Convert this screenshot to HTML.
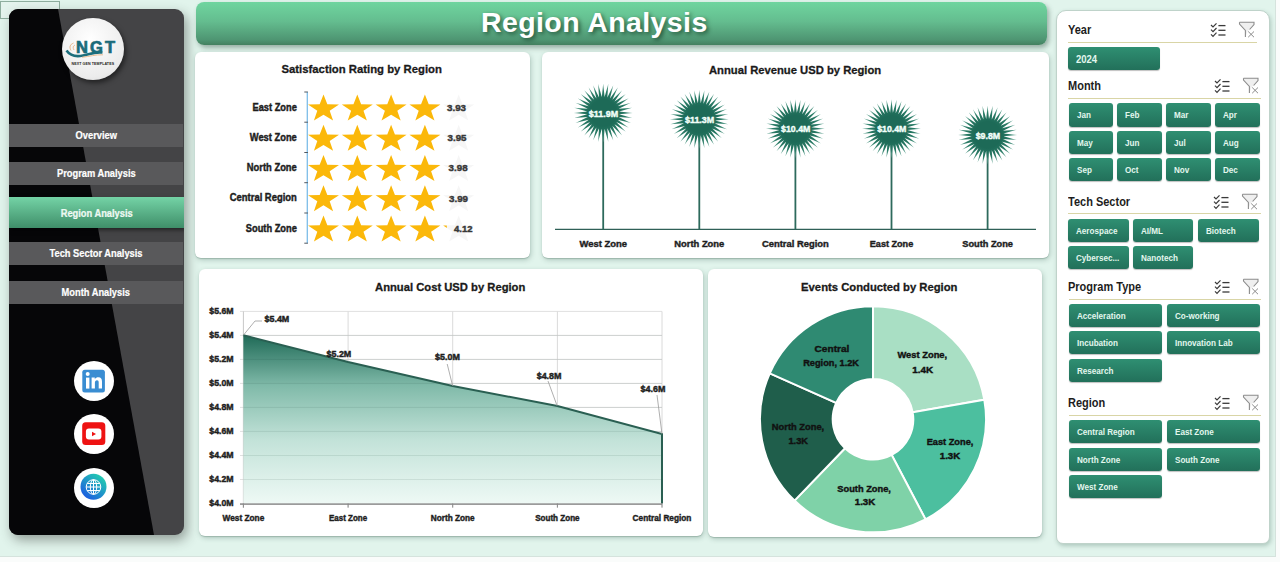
<!DOCTYPE html>
<html><head><meta charset="utf-8">
<style>
*{margin:0;padding:0;box-sizing:border-box}
html,body{width:1280px;height:562px;overflow:hidden;background:#fafcfb;font-family:"Liberation Sans",sans-serif}
#bg{position:absolute;left:0;top:0;width:1276px;height:557px;background:#e1f4ec;border-bottom:1px solid #d5e3dd;border-right:1px solid #d5e3dd}
#cell{position:absolute;left:0;top:1px;width:60px;height:18px;border:1px solid #8fae9f;background:#e4f3ed}
#sb{position:absolute;left:9px;top:9px;width:175px;height:526px;border-radius:9px;overflow:hidden;background:#444446;box-shadow:3px 5px 12px rgba(50,55,52,.45)}
#sb .blk{position:absolute;left:0;top:0;width:175px;height:526px;background:#060608;clip-path:polygon(0 0,49px 0,145px 526px,0 526px)}
.nav{position:absolute;left:0;width:174px;height:23px;background:#59595b;color:#fff;font-weight:bold;font-size:10px;text-align:center;line-height:24px;-webkit-text-stroke:.2px #fff}
.nav span{display:inline-block;transform:scaleX(.93)}
.nav.act{background:linear-gradient(#74d3a6,#3f8e69);height:31px;line-height:33px;width:175px;box-shadow:2px 2px 4px rgba(0,0,0,.5);color:#eaf8f0}
#logo{position:absolute;left:62px;top:18px;width:62px;height:62px;border-radius:50%;background:radial-gradient(circle at 45% 35%,#ffffff,#ececec 70%,#d6d6d6);box-shadow:2px 3px 5px rgba(0,0,0,.5)}
.soc{position:absolute;width:40px;height:40px;border-radius:50%;background:#fff}
#hdr{position:absolute;left:196px;top:2px;width:851px;height:42.5px;border-radius:8px;background:linear-gradient(#6fd59f,#64bd8f 45%,#4e9572 88%,#43805f);box-shadow:2px 3px 5px rgba(60,90,75,.45)}
#hdr .t{position:absolute;left:285px;top:3.5px;color:#fff;font-weight:bold;font-size:28.5px;letter-spacing:.4px;text-shadow:2px 2px 4px rgba(0,30,15,.6);white-space:nowrap}
.card{position:absolute;background:#fff;border-radius:6px;box-shadow:0 1px 1px rgba(40,80,65,.22),1px 2px 5px rgba(60,100,85,.3)}
#slc{position:absolute;left:1056px;top:10px;width:214px;height:534px;background:#fff;border-radius:10px 10px 7px 7px;border:1px solid #bfd3ca;box-shadow:1px 2px 4px rgba(60,100,85,.3)}
.sh{position:absolute;font-weight:bold;font-size:12.5px;color:#1d1d1d;white-space:nowrap}.sh span{display:inline-block;transform:scaleX(.88);transform-origin:0 0}
.sep{position:absolute;height:1px;background:#d9d5a6}
.btn span{display:inline-block;transform:scaleX(.9) translateY(.5px);transform-origin:0 0}.btn{position:absolute;border-radius:3px;background:linear-gradient(#2f8f72,#22705a);color:#e3f7ee;font-weight:bold;font-size:9px;padding-left:8px;box-shadow:0 1px 1px rgba(0,0,0,.25);white-space:nowrap;overflow:hidden}
</style></head><body>
<div id="bg"></div>
<div id="cell"></div>

<div id="sb">
  <div class="blk"></div>
  <div class="nav" style="top:115px"><span>Overview</span></div>
  <div class="nav" style="top:153px"><span>Program Analysis</span></div>
  <div class="nav act" style="top:188px"><span>Region Analysis</span></div>
  <div class="nav" style="top:233px"><span>Tech Sector Analysis</span></div>
  <div class="nav" style="top:272px"><span>Month Analysis</span></div>
</div>
<div id="logo"></div>
<div class="soc" style="left:74px;top:361px"></div>
<div class="soc" style="left:74px;top:414px"></div>
<div class="soc" style="left:74px;top:468px"></div>

<div id="hdr"><div class="t">Region Analysis</div></div>

<div class="card" style="left:195px;top:52px;width:335px;height:206px"></div>
<div class="card" style="left:542px;top:52px;width:507px;height:206px"></div>
<div class="card" style="left:199px;top:269px;width:503.5px;height:266.5px"></div>
<div class="card" style="left:707.5px;top:268.5px;width:334px;height:268.5px"></div>

<div id="slc"></div>
<div class="sh" style="left:1068px;top:22.5px"><span>Year</span></div><div class="sep" style="left:1068.0px;top:41.8px;width:189.0px"></div><svg width="60" height="20" style="position:absolute;left:1209.2px;top:19.6px" ><polyline points="2,5.0 4,7.0 7.5,3.3" fill="none" stroke="#3a3a3a" stroke-width="1.2"/><line x1="9.4" y1="5.6" x2="16.5" y2="5.6" stroke="#3a3a3a" stroke-width="1.3"/><polyline points="2,9.7 4,11.7 7.5,8.0" fill="none" stroke="#3a3a3a" stroke-width="1.2"/><line x1="9.4" y1="10.3" x2="16.5" y2="10.3" stroke="#3a3a3a" stroke-width="1.3"/><polyline points="2,14.4 4,16.4 7.5,12.7" fill="none" stroke="#3a3a3a" stroke-width="1.2"/><line x1="9.4" y1="15.0" x2="16.5" y2="15.0" stroke="#3a3a3a" stroke-width="1.3"/><polygon points="30.5,2.3 45,2.3 45,4.5 38.5,11.5 36.4,17 36.4,10.5 30.5,4" fill="#efefef"/><path d="M30.5,2.3 L45,2.3 L45,4.5 L40.6,9.5 M30.5,2.3 L30.5,4 L36.4,10.5 L36.4,17" fill="none" stroke="#8c8c8c" stroke-width="1.1"/><path d="M39.2,11.5 L45,17.2 M45,11.5 L39.2,17.2" stroke="#8c8c8c" stroke-width="1"/></svg><div class="btn" style="left:1068px;top:46.8px;width:92px;height:23.2px;line-height:23.2px;font-size:10px;padding-left:7.8px"><span style="transform:scaleX(.95) translateY(.5px)">2024</span></div><div class="sh" style="left:1068px;top:78.5px"><span>Month</span></div><div class="sep" style="left:1068.0px;top:97.7px;width:192.6px"></div><svg width="60" height="20" style="position:absolute;left:1213.0px;top:75.6px" ><polyline points="2,5.0 4,7.0 7.5,3.3" fill="none" stroke="#3a3a3a" stroke-width="1.2"/><line x1="9.4" y1="5.6" x2="16.5" y2="5.6" stroke="#3a3a3a" stroke-width="1.3"/><polyline points="2,9.7 4,11.7 7.5,8.0" fill="none" stroke="#3a3a3a" stroke-width="1.2"/><line x1="9.4" y1="10.3" x2="16.5" y2="10.3" stroke="#3a3a3a" stroke-width="1.3"/><polyline points="2,14.4 4,16.4 7.5,12.7" fill="none" stroke="#3a3a3a" stroke-width="1.2"/><line x1="9.4" y1="15.0" x2="16.5" y2="15.0" stroke="#3a3a3a" stroke-width="1.3"/><polygon points="30.5,2.3 45,2.3 45,4.5 38.5,11.5 36.4,17 36.4,10.5 30.5,4" fill="#efefef"/><path d="M30.5,2.3 L45,2.3 L45,4.5 L40.6,9.5 M30.5,2.3 L30.5,4 L36.4,10.5 L36.4,17" fill="none" stroke="#8c8c8c" stroke-width="1.1"/><path d="M39.2,11.5 L45,17.2 M45,11.5 L39.2,17.2" stroke="#8c8c8c" stroke-width="1"/></svg><div class="btn" style="left:1068.5px;top:103.4px;width:44.8px;height:23.2px;line-height:23.2px"><span>Jan</span></div><div class="btn" style="left:1117.4px;top:103.4px;width:44.6px;height:23.2px;line-height:23.2px"><span>Feb</span></div><div class="btn" style="left:1165.8px;top:103.4px;width:45.0px;height:23.2px;line-height:23.2px"><span>Mar</span></div><div class="btn" style="left:1214.9px;top:103.4px;width:44.8px;height:23.2px;line-height:23.2px"><span>Apr</span></div><div class="btn" style="left:1068.5px;top:130.6px;width:44.8px;height:23.2px;line-height:23.2px"><span>May</span></div><div class="btn" style="left:1117.4px;top:130.6px;width:44.6px;height:23.2px;line-height:23.2px"><span>Jun</span></div><div class="btn" style="left:1165.8px;top:130.6px;width:45.0px;height:23.2px;line-height:23.2px"><span>Jul</span></div><div class="btn" style="left:1214.9px;top:130.6px;width:44.8px;height:23.2px;line-height:23.2px"><span>Aug</span></div><div class="btn" style="left:1068.5px;top:158.2px;width:44.8px;height:23.2px;line-height:23.2px"><span>Sep</span></div><div class="btn" style="left:1117.4px;top:158.2px;width:44.6px;height:23.2px;line-height:23.2px"><span>Oct</span></div><div class="btn" style="left:1165.8px;top:158.2px;width:45.0px;height:23.2px;line-height:23.2px"><span>Nov</span></div><div class="btn" style="left:1214.9px;top:158.2px;width:44.8px;height:23.2px;line-height:23.2px"><span>Dec</span></div><div class="sh" style="left:1068px;top:194.5px"><span>Tech Sector</span></div><div class="sep" style="left:1068.0px;top:213.0px;width:192.6px"></div><svg width="60" height="20" style="position:absolute;left:1211.5px;top:191.6px" ><polyline points="2,5.0 4,7.0 7.5,3.3" fill="none" stroke="#3a3a3a" stroke-width="1.2"/><line x1="9.4" y1="5.6" x2="16.5" y2="5.6" stroke="#3a3a3a" stroke-width="1.3"/><polyline points="2,9.7 4,11.7 7.5,8.0" fill="none" stroke="#3a3a3a" stroke-width="1.2"/><line x1="9.4" y1="10.3" x2="16.5" y2="10.3" stroke="#3a3a3a" stroke-width="1.3"/><polyline points="2,14.4 4,16.4 7.5,12.7" fill="none" stroke="#3a3a3a" stroke-width="1.2"/><line x1="9.4" y1="15.0" x2="16.5" y2="15.0" stroke="#3a3a3a" stroke-width="1.3"/><polygon points="30.5,2.3 45,2.3 45,4.5 38.5,11.5 36.4,17 36.4,10.5 30.5,4" fill="#efefef"/><path d="M30.5,2.3 L45,2.3 L45,4.5 L40.6,9.5 M30.5,2.3 L30.5,4 L36.4,10.5 L36.4,17" fill="none" stroke="#8c8c8c" stroke-width="1.1"/><path d="M39.2,11.5 L45,17.2 M45,11.5 L39.2,17.2" stroke="#8c8c8c" stroke-width="1"/></svg><div class="btn" style="left:1068.1px;top:218.5px;width:60.5px;height:23.0px;line-height:23.0px"><span>Aerospace</span></div><div class="btn" style="left:1132.9px;top:218.5px;width:60.5px;height:23.0px;line-height:23.0px"><span>AI/ML</span></div><div class="btn" style="left:1197.5px;top:218.5px;width:61.3px;height:23.0px;line-height:23.0px"><span>Biotech</span></div><div class="btn" style="left:1068.1px;top:245.9px;width:60.5px;height:23.0px;line-height:23.0px"><span>Cybersec...</span></div><div class="btn" style="left:1132.9px;top:245.9px;width:60.5px;height:23.0px;line-height:23.0px"><span>Nanotech</span></div><div class="sh" style="left:1068px;top:279.5px"><span>Program Type</span></div><div class="sep" style="left:1068.8px;top:298.8px;width:192.7px"></div><svg width="60" height="20" style="position:absolute;left:1213.0px;top:276.6px" ><polyline points="2,5.0 4,7.0 7.5,3.3" fill="none" stroke="#3a3a3a" stroke-width="1.2"/><line x1="9.4" y1="5.6" x2="16.5" y2="5.6" stroke="#3a3a3a" stroke-width="1.3"/><polyline points="2,9.7 4,11.7 7.5,8.0" fill="none" stroke="#3a3a3a" stroke-width="1.2"/><line x1="9.4" y1="10.3" x2="16.5" y2="10.3" stroke="#3a3a3a" stroke-width="1.3"/><polyline points="2,14.4 4,16.4 7.5,12.7" fill="none" stroke="#3a3a3a" stroke-width="1.2"/><line x1="9.4" y1="15.0" x2="16.5" y2="15.0" stroke="#3a3a3a" stroke-width="1.3"/><polygon points="30.5,2.3 45,2.3 45,4.5 38.5,11.5 36.4,17 36.4,10.5 30.5,4" fill="#efefef"/><path d="M30.5,2.3 L45,2.3 L45,4.5 L40.6,9.5 M30.5,2.3 L30.5,4 L36.4,10.5 L36.4,17" fill="none" stroke="#8c8c8c" stroke-width="1.1"/><path d="M39.2,11.5 L45,17.2 M45,11.5 L39.2,17.2" stroke="#8c8c8c" stroke-width="1"/></svg><div class="btn" style="left:1068.8px;top:304.2px;width:93.6px;height:23.0px;line-height:23.0px"><span>Acceleration</span></div><div class="btn" style="left:1166.6px;top:304.2px;width:93.8px;height:23.0px;line-height:23.0px"><span>Co-working</span></div><div class="btn" style="left:1068.8px;top:331.3px;width:93.6px;height:23.0px;line-height:23.0px"><span>Incubation</span></div><div class="btn" style="left:1166.6px;top:331.3px;width:93.8px;height:23.0px;line-height:23.0px"><span>Innovation Lab</span></div><div class="btn" style="left:1068.8px;top:358.6px;width:93.6px;height:23.0px;line-height:23.0px"><span>Research</span></div><div class="sh" style="left:1068px;top:395.5px"><span>Region</span></div><div class="sep" style="left:1068.8px;top:414.8px;width:192.7px"></div><svg width="60" height="20" style="position:absolute;left:1213.0px;top:392.6px" ><polyline points="2,5.0 4,7.0 7.5,3.3" fill="none" stroke="#3a3a3a" stroke-width="1.2"/><line x1="9.4" y1="5.6" x2="16.5" y2="5.6" stroke="#3a3a3a" stroke-width="1.3"/><polyline points="2,9.7 4,11.7 7.5,8.0" fill="none" stroke="#3a3a3a" stroke-width="1.2"/><line x1="9.4" y1="10.3" x2="16.5" y2="10.3" stroke="#3a3a3a" stroke-width="1.3"/><polyline points="2,14.4 4,16.4 7.5,12.7" fill="none" stroke="#3a3a3a" stroke-width="1.2"/><line x1="9.4" y1="15.0" x2="16.5" y2="15.0" stroke="#3a3a3a" stroke-width="1.3"/><polygon points="30.5,2.3 45,2.3 45,4.5 38.5,11.5 36.4,17 36.4,10.5 30.5,4" fill="#efefef"/><path d="M30.5,2.3 L45,2.3 L45,4.5 L40.6,9.5 M30.5,2.3 L30.5,4 L36.4,10.5 L36.4,17" fill="none" stroke="#8c8c8c" stroke-width="1.1"/><path d="M39.2,11.5 L45,17.2 M45,11.5 L39.2,17.2" stroke="#8c8c8c" stroke-width="1"/></svg><div class="btn" style="left:1068.8px;top:420.2px;width:93.6px;height:23.0px;line-height:23.0px"><span>Central Region</span></div><div class="btn" style="left:1166.6px;top:420.2px;width:93.8px;height:23.0px;line-height:23.0px"><span>East Zone</span></div><div class="btn" style="left:1068.8px;top:447.6px;width:93.6px;height:23.0px;line-height:23.0px"><span>North Zone</span></div><div class="btn" style="left:1166.6px;top:447.6px;width:93.8px;height:23.0px;line-height:23.0px"><span>South Zone</span></div><div class="btn" style="left:1068.8px;top:474.7px;width:93.6px;height:23.0px;line-height:23.0px"><span>West Zone</span></div>
<svg width="1280" height="562" viewBox="0 0 1280 562" style="position:absolute;left:0;top:0" font-family="Liberation Sans, sans-serif"><text x="361.7" y="73.0" font-size="11.50" text-anchor="middle" fill="#1a1a1a" stroke="#1a1a1a" stroke-width="0.30" font-weight="bold" textLength="160.4" lengthAdjust="spacingAndGlyphs">Satisfaction Rating by Region</text>
<line x1="307.3" y1="92" x2="307.3" y2="243.2" stroke="#7dbde8" stroke-width="1.3"/>
<line x1="304.3" y1="92.0" x2="307.9" y2="92.0" stroke="#505860" stroke-width="1"/>
<line x1="304.3" y1="122.2" x2="307.9" y2="122.2" stroke="#505860" stroke-width="1"/>
<line x1="304.3" y1="152.5" x2="307.9" y2="152.5" stroke="#505860" stroke-width="1"/>
<line x1="304.3" y1="182.7" x2="307.9" y2="182.7" stroke="#505860" stroke-width="1"/>
<line x1="304.3" y1="213.0" x2="307.9" y2="213.0" stroke="#505860" stroke-width="1"/>
<line x1="304.3" y1="243.2" x2="307.9" y2="243.2" stroke="#505860" stroke-width="1"/>
<defs><radialGradient id="bg1"><stop offset="0.45" stop-color="#1d6a57"/><stop offset="0.75" stop-color="#2a7b66"/><stop offset="1" stop-color="#79b5a5"/></radialGradient></defs>
<text x="296.8" y="110.7" font-size="10.00" text-anchor="end" fill="#1e1e1e" stroke="#1e1e1e" stroke-width="0.42" font-weight="bold" textLength="44.3" lengthAdjust="spacingAndGlyphs">East Zone</text>
<polygon points="0.00,-14.34 3.83,-4.64 15.50,-4.43 6.20,1.77 9.58,11.60 0.00,5.74 -9.58,11.60 -6.20,1.77 -15.50,-4.43 -3.83,-4.64" transform="translate(323.5 108.9)" fill="#fbb80a"/>
<polygon points="0.00,-14.34 3.83,-4.64 15.50,-4.43 6.20,1.77 9.58,11.60 0.00,5.74 -9.58,11.60 -6.20,1.77 -15.50,-4.43 -3.83,-4.64" transform="translate(357.3 108.9)" fill="#fbb80a"/>
<polygon points="0.00,-14.34 3.83,-4.64 15.50,-4.43 6.20,1.77 9.58,11.60 0.00,5.74 -9.58,11.60 -6.20,1.77 -15.50,-4.43 -3.83,-4.64" transform="translate(391.1 108.9)" fill="#fbb80a"/>
<polygon points="0.00,-14.34 3.83,-4.64 15.50,-4.43 6.20,1.77 9.58,11.60 0.00,5.74 -9.58,11.60 -6.20,1.77 -15.50,-4.43 -3.83,-4.64" transform="translate(424.9 108.9)" fill="#fbb80a"/>
<polygon points="0.00,-14.34 3.83,-4.64 15.50,-4.43 6.20,1.77 9.58,11.60 0.00,5.74 -9.58,11.60 -6.20,1.77 -15.50,-4.43 -3.83,-4.64" transform="translate(458.7 108.9)" fill="#f6f6f6"/>
<text x="447.0" y="110.9" font-size="9.30" text-anchor="start" fill="#383838" stroke="#383838" stroke-width="0.42" font-weight="bold" textLength="19.0" lengthAdjust="spacingAndGlyphs">3.93</text>
<text x="296.8" y="141.0" font-size="10.00" text-anchor="end" fill="#1e1e1e" stroke="#1e1e1e" stroke-width="0.42" font-weight="bold" textLength="47.0" lengthAdjust="spacingAndGlyphs">West Zone</text>
<polygon points="0.00,-14.34 3.83,-4.64 15.50,-4.43 6.20,1.77 9.58,11.60 0.00,5.74 -9.58,11.60 -6.20,1.77 -15.50,-4.43 -3.83,-4.64" transform="translate(323.5 139.2)" fill="#fbb80a"/>
<polygon points="0.00,-14.34 3.83,-4.64 15.50,-4.43 6.20,1.77 9.58,11.60 0.00,5.74 -9.58,11.60 -6.20,1.77 -15.50,-4.43 -3.83,-4.64" transform="translate(357.3 139.2)" fill="#fbb80a"/>
<polygon points="0.00,-14.34 3.83,-4.64 15.50,-4.43 6.20,1.77 9.58,11.60 0.00,5.74 -9.58,11.60 -6.20,1.77 -15.50,-4.43 -3.83,-4.64" transform="translate(391.1 139.2)" fill="#fbb80a"/>
<polygon points="0.00,-14.34 3.83,-4.64 15.50,-4.43 6.20,1.77 9.58,11.60 0.00,5.74 -9.58,11.60 -6.20,1.77 -15.50,-4.43 -3.83,-4.64" transform="translate(424.9 139.2)" fill="#fbb80a"/>
<polygon points="0.00,-14.34 3.83,-4.64 15.50,-4.43 6.20,1.77 9.58,11.60 0.00,5.74 -9.58,11.60 -6.20,1.77 -15.50,-4.43 -3.83,-4.64" transform="translate(458.7 139.2)" fill="#f6f6f6"/>
<text x="447.5" y="141.2" font-size="9.30" text-anchor="start" fill="#383838" stroke="#383838" stroke-width="0.42" font-weight="bold" textLength="19.0" lengthAdjust="spacingAndGlyphs">3.95</text>
<text x="296.8" y="171.2" font-size="10.00" text-anchor="end" fill="#1e1e1e" stroke="#1e1e1e" stroke-width="0.42" font-weight="bold" textLength="50.0" lengthAdjust="spacingAndGlyphs">North Zone</text>
<polygon points="0.00,-14.34 3.83,-4.64 15.50,-4.43 6.20,1.77 9.58,11.60 0.00,5.74 -9.58,11.60 -6.20,1.77 -15.50,-4.43 -3.83,-4.64" transform="translate(323.5 169.4)" fill="#fbb80a"/>
<polygon points="0.00,-14.34 3.83,-4.64 15.50,-4.43 6.20,1.77 9.58,11.60 0.00,5.74 -9.58,11.60 -6.20,1.77 -15.50,-4.43 -3.83,-4.64" transform="translate(357.3 169.4)" fill="#fbb80a"/>
<polygon points="0.00,-14.34 3.83,-4.64 15.50,-4.43 6.20,1.77 9.58,11.60 0.00,5.74 -9.58,11.60 -6.20,1.77 -15.50,-4.43 -3.83,-4.64" transform="translate(391.1 169.4)" fill="#fbb80a"/>
<polygon points="0.00,-14.34 3.83,-4.64 15.50,-4.43 6.20,1.77 9.58,11.60 0.00,5.74 -9.58,11.60 -6.20,1.77 -15.50,-4.43 -3.83,-4.64" transform="translate(424.9 169.4)" fill="#fbb80a"/>
<polygon points="0.00,-14.34 3.83,-4.64 15.50,-4.43 6.20,1.77 9.58,11.60 0.00,5.74 -9.58,11.60 -6.20,1.77 -15.50,-4.43 -3.83,-4.64" transform="translate(458.7 169.4)" fill="#f6f6f6"/>
<text x="448.6" y="171.4" font-size="9.30" text-anchor="start" fill="#383838" stroke="#383838" stroke-width="0.42" font-weight="bold" textLength="19.0" lengthAdjust="spacingAndGlyphs">3.98</text>
<text x="296.8" y="201.4" font-size="10.00" text-anchor="end" fill="#1e1e1e" stroke="#1e1e1e" stroke-width="0.42" font-weight="bold" textLength="67.0" lengthAdjust="spacingAndGlyphs">Central Region</text>
<polygon points="0.00,-14.34 3.83,-4.64 15.50,-4.43 6.20,1.77 9.58,11.60 0.00,5.74 -9.58,11.60 -6.20,1.77 -15.50,-4.43 -3.83,-4.64" transform="translate(323.5 199.6)" fill="#fbb80a"/>
<polygon points="0.00,-14.34 3.83,-4.64 15.50,-4.43 6.20,1.77 9.58,11.60 0.00,5.74 -9.58,11.60 -6.20,1.77 -15.50,-4.43 -3.83,-4.64" transform="translate(357.3 199.6)" fill="#fbb80a"/>
<polygon points="0.00,-14.34 3.83,-4.64 15.50,-4.43 6.20,1.77 9.58,11.60 0.00,5.74 -9.58,11.60 -6.20,1.77 -15.50,-4.43 -3.83,-4.64" transform="translate(391.1 199.6)" fill="#fbb80a"/>
<polygon points="0.00,-14.34 3.83,-4.64 15.50,-4.43 6.20,1.77 9.58,11.60 0.00,5.74 -9.58,11.60 -6.20,1.77 -15.50,-4.43 -3.83,-4.64" transform="translate(424.9 199.6)" fill="#fbb80a"/>
<polygon points="0.00,-14.34 3.83,-4.64 15.50,-4.43 6.20,1.77 9.58,11.60 0.00,5.74 -9.58,11.60 -6.20,1.77 -15.50,-4.43 -3.83,-4.64" transform="translate(458.7 199.6)" fill="#f6f6f6"/>
<text x="449.0" y="201.6" font-size="9.30" text-anchor="start" fill="#383838" stroke="#383838" stroke-width="0.42" font-weight="bold" textLength="19.0" lengthAdjust="spacingAndGlyphs">3.99</text>
<text x="296.8" y="231.7" font-size="10.00" text-anchor="end" fill="#1e1e1e" stroke="#1e1e1e" stroke-width="0.42" font-weight="bold" textLength="51.0" lengthAdjust="spacingAndGlyphs">South Zone</text>
<polygon points="0.00,-14.34 3.83,-4.64 15.50,-4.43 6.20,1.77 9.58,11.60 0.00,5.74 -9.58,11.60 -6.20,1.77 -15.50,-4.43 -3.83,-4.64" transform="translate(323.5 229.9)" fill="#fbb80a"/>
<polygon points="0.00,-14.34 3.83,-4.64 15.50,-4.43 6.20,1.77 9.58,11.60 0.00,5.74 -9.58,11.60 -6.20,1.77 -15.50,-4.43 -3.83,-4.64" transform="translate(357.3 229.9)" fill="#fbb80a"/>
<polygon points="0.00,-14.34 3.83,-4.64 15.50,-4.43 6.20,1.77 9.58,11.60 0.00,5.74 -9.58,11.60 -6.20,1.77 -15.50,-4.43 -3.83,-4.64" transform="translate(391.1 229.9)" fill="#fbb80a"/>
<polygon points="0.00,-14.34 3.83,-4.64 15.50,-4.43 6.20,1.77 9.58,11.60 0.00,5.74 -9.58,11.60 -6.20,1.77 -15.50,-4.43 -3.83,-4.64" transform="translate(424.9 229.9)" fill="#fbb80a"/>
<polygon points="0.00,-14.34 3.83,-4.64 15.50,-4.43 6.20,1.77 9.58,11.60 0.00,5.74 -9.58,11.60 -6.20,1.77 -15.50,-4.43 -3.83,-4.64" transform="translate(458.7 229.9)" fill="#f6f6f6"/>
<defs><clipPath id="cp5"><rect x="440" y="200" width="6.8" height="60"/></clipPath></defs>
<g clip-path="url(#cp5)"><polygon points="0.00,-14.34 3.83,-4.64 15.50,-4.43 6.20,1.77 9.58,11.60 0.00,5.74 -9.58,11.60 -6.20,1.77 -15.50,-4.43 -3.83,-4.64" transform="translate(458.7 229.9)" fill="#fbb80a"/></g>
<text x="454.0" y="231.9" font-size="9.30" text-anchor="start" fill="#383838" stroke="#383838" stroke-width="0.42" font-weight="bold" textLength="18.5" lengthAdjust="spacingAndGlyphs">4.12</text>
<text x="795.1" y="74.1" font-size="11.50" text-anchor="middle" fill="#1a1a1a" stroke="#1a1a1a" stroke-width="0.30" font-weight="bold" textLength="172.2" lengthAdjust="spacingAndGlyphs">Annual Revenue USD by Region</text>
<line x1="555" y1="229.3" x2="1036" y2="229.3" stroke="#2f6057" stroke-width="1.3"/>
<line x1="603.2" y1="112.9" x2="603.2" y2="229.3" stroke="#2d6a5c" stroke-width="1.8"/>
<polygon points="0.00,-29.50 1.39,-15.94 5.12,-29.05 4.14,-15.45 10.09,-27.72 6.76,-14.50 14.75,-25.55 9.18,-13.11 18.96,-22.60 11.31,-11.31 22.60,-18.96 13.11,-9.18 25.55,-14.75 14.50,-6.76 27.72,-10.09 15.45,-4.14 29.05,-5.12 15.94,-1.39 29.50,0.00 15.94,1.39 29.05,5.12 15.45,4.14 27.72,10.09 14.50,6.76 25.55,14.75 13.11,9.18 22.60,18.96 11.31,11.31 18.96,22.60 9.18,13.11 14.75,25.55 6.76,14.50 10.09,27.72 4.14,15.45 5.12,29.05 1.39,15.94 0.00,29.50 -1.39,15.94 -5.12,29.05 -4.14,15.45 -10.09,27.72 -6.76,14.50 -14.75,25.55 -9.18,13.11 -18.96,22.60 -11.31,11.31 -22.60,18.96 -13.11,9.18 -25.55,14.75 -14.50,6.76 -27.72,10.09 -15.45,4.14 -29.05,5.12 -15.94,1.39 -29.50,0.00 -15.94,-1.39 -29.05,-5.12 -15.45,-4.14 -27.72,-10.09 -14.50,-6.76 -25.55,-14.75 -13.11,-9.18 -22.60,-18.96 -11.31,-11.31 -18.96,-22.60 -9.18,-13.11 -14.75,-25.55 -6.76,-14.50 -10.09,-27.72 -4.14,-15.45 -5.12,-29.05 -1.39,-15.94" transform="translate(603.2 112.9)" fill="url(#bg1)"/>
<text x="603.5" y="116.5" font-size="9.20" text-anchor="middle" fill="#f2fffa" stroke="#f2fffa" stroke-width="0.42" font-weight="bold" textLength="29.3" lengthAdjust="spacingAndGlyphs">$11.9M</text>
<text x="603.2" y="246.8" font-size="9.50" text-anchor="middle" fill="#1e1e1e" stroke="#1e1e1e" stroke-width="0.42" font-weight="bold" textLength="47.5" lengthAdjust="spacingAndGlyphs">West Zone</text>
<line x1="699.3" y1="119.2" x2="699.3" y2="229.3" stroke="#2d6a5c" stroke-width="1.8"/>
<polygon points="0.00,-29.50 1.39,-15.94 5.12,-29.05 4.14,-15.45 10.09,-27.72 6.76,-14.50 14.75,-25.55 9.18,-13.11 18.96,-22.60 11.31,-11.31 22.60,-18.96 13.11,-9.18 25.55,-14.75 14.50,-6.76 27.72,-10.09 15.45,-4.14 29.05,-5.12 15.94,-1.39 29.50,0.00 15.94,1.39 29.05,5.12 15.45,4.14 27.72,10.09 14.50,6.76 25.55,14.75 13.11,9.18 22.60,18.96 11.31,11.31 18.96,22.60 9.18,13.11 14.75,25.55 6.76,14.50 10.09,27.72 4.14,15.45 5.12,29.05 1.39,15.94 0.00,29.50 -1.39,15.94 -5.12,29.05 -4.14,15.45 -10.09,27.72 -6.76,14.50 -14.75,25.55 -9.18,13.11 -18.96,22.60 -11.31,11.31 -22.60,18.96 -13.11,9.18 -25.55,14.75 -14.50,6.76 -27.72,10.09 -15.45,4.14 -29.05,5.12 -15.94,1.39 -29.50,0.00 -15.94,-1.39 -29.05,-5.12 -15.45,-4.14 -27.72,-10.09 -14.50,-6.76 -25.55,-14.75 -13.11,-9.18 -22.60,-18.96 -11.31,-11.31 -18.96,-22.60 -9.18,-13.11 -14.75,-25.55 -6.76,-14.50 -10.09,-27.72 -4.14,-15.45 -5.12,-29.05 -1.39,-15.94" transform="translate(699.3 119.2)" fill="url(#bg1)"/>
<text x="699.6" y="122.8" font-size="9.20" text-anchor="middle" fill="#f2fffa" stroke="#f2fffa" stroke-width="0.42" font-weight="bold" textLength="29.3" lengthAdjust="spacingAndGlyphs">$11.3M</text>
<text x="699.3" y="246.8" font-size="9.50" text-anchor="middle" fill="#1e1e1e" stroke="#1e1e1e" stroke-width="0.42" font-weight="bold" textLength="50.0" lengthAdjust="spacingAndGlyphs">North Zone</text>
<line x1="795.4" y1="128.7" x2="795.4" y2="229.3" stroke="#2d6a5c" stroke-width="1.8"/>
<polygon points="0.00,-29.50 1.39,-15.94 5.12,-29.05 4.14,-15.45 10.09,-27.72 6.76,-14.50 14.75,-25.55 9.18,-13.11 18.96,-22.60 11.31,-11.31 22.60,-18.96 13.11,-9.18 25.55,-14.75 14.50,-6.76 27.72,-10.09 15.45,-4.14 29.05,-5.12 15.94,-1.39 29.50,0.00 15.94,1.39 29.05,5.12 15.45,4.14 27.72,10.09 14.50,6.76 25.55,14.75 13.11,9.18 22.60,18.96 11.31,11.31 18.96,22.60 9.18,13.11 14.75,25.55 6.76,14.50 10.09,27.72 4.14,15.45 5.12,29.05 1.39,15.94 0.00,29.50 -1.39,15.94 -5.12,29.05 -4.14,15.45 -10.09,27.72 -6.76,14.50 -14.75,25.55 -9.18,13.11 -18.96,22.60 -11.31,11.31 -22.60,18.96 -13.11,9.18 -25.55,14.75 -14.50,6.76 -27.72,10.09 -15.45,4.14 -29.05,5.12 -15.94,1.39 -29.50,0.00 -15.94,-1.39 -29.05,-5.12 -15.45,-4.14 -27.72,-10.09 -14.50,-6.76 -25.55,-14.75 -13.11,-9.18 -22.60,-18.96 -11.31,-11.31 -18.96,-22.60 -9.18,-13.11 -14.75,-25.55 -6.76,-14.50 -10.09,-27.72 -4.14,-15.45 -5.12,-29.05 -1.39,-15.94" transform="translate(795.4 128.7)" fill="url(#bg1)"/>
<text x="795.7" y="132.2" font-size="9.20" text-anchor="middle" fill="#f2fffa" stroke="#f2fffa" stroke-width="0.42" font-weight="bold" textLength="29.3" lengthAdjust="spacingAndGlyphs">$10.4M</text>
<text x="795.4" y="246.8" font-size="9.50" text-anchor="middle" fill="#1e1e1e" stroke="#1e1e1e" stroke-width="0.42" font-weight="bold" textLength="66.8" lengthAdjust="spacingAndGlyphs">Central Region</text>
<line x1="891.5" y1="128.7" x2="891.5" y2="229.3" stroke="#2d6a5c" stroke-width="1.8"/>
<polygon points="0.00,-29.50 1.39,-15.94 5.12,-29.05 4.14,-15.45 10.09,-27.72 6.76,-14.50 14.75,-25.55 9.18,-13.11 18.96,-22.60 11.31,-11.31 22.60,-18.96 13.11,-9.18 25.55,-14.75 14.50,-6.76 27.72,-10.09 15.45,-4.14 29.05,-5.12 15.94,-1.39 29.50,0.00 15.94,1.39 29.05,5.12 15.45,4.14 27.72,10.09 14.50,6.76 25.55,14.75 13.11,9.18 22.60,18.96 11.31,11.31 18.96,22.60 9.18,13.11 14.75,25.55 6.76,14.50 10.09,27.72 4.14,15.45 5.12,29.05 1.39,15.94 0.00,29.50 -1.39,15.94 -5.12,29.05 -4.14,15.45 -10.09,27.72 -6.76,14.50 -14.75,25.55 -9.18,13.11 -18.96,22.60 -11.31,11.31 -22.60,18.96 -13.11,9.18 -25.55,14.75 -14.50,6.76 -27.72,10.09 -15.45,4.14 -29.05,5.12 -15.94,1.39 -29.50,0.00 -15.94,-1.39 -29.05,-5.12 -15.45,-4.14 -27.72,-10.09 -14.50,-6.76 -25.55,-14.75 -13.11,-9.18 -22.60,-18.96 -11.31,-11.31 -18.96,-22.60 -9.18,-13.11 -14.75,-25.55 -6.76,-14.50 -10.09,-27.72 -4.14,-15.45 -5.12,-29.05 -1.39,-15.94" transform="translate(891.5 128.7)" fill="url(#bg1)"/>
<text x="891.8" y="132.2" font-size="9.20" text-anchor="middle" fill="#f2fffa" stroke="#f2fffa" stroke-width="0.42" font-weight="bold" textLength="29.3" lengthAdjust="spacingAndGlyphs">$10.4M</text>
<text x="891.5" y="246.8" font-size="9.50" text-anchor="middle" fill="#1e1e1e" stroke="#1e1e1e" stroke-width="0.42" font-weight="bold" textLength="43.4" lengthAdjust="spacingAndGlyphs">East Zone</text>
<line x1="987.6" y1="134.9" x2="987.6" y2="229.3" stroke="#2d6a5c" stroke-width="1.8"/>
<polygon points="0.00,-29.50 1.39,-15.94 5.12,-29.05 4.14,-15.45 10.09,-27.72 6.76,-14.50 14.75,-25.55 9.18,-13.11 18.96,-22.60 11.31,-11.31 22.60,-18.96 13.11,-9.18 25.55,-14.75 14.50,-6.76 27.72,-10.09 15.45,-4.14 29.05,-5.12 15.94,-1.39 29.50,0.00 15.94,1.39 29.05,5.12 15.45,4.14 27.72,10.09 14.50,6.76 25.55,14.75 13.11,9.18 22.60,18.96 11.31,11.31 18.96,22.60 9.18,13.11 14.75,25.55 6.76,14.50 10.09,27.72 4.14,15.45 5.12,29.05 1.39,15.94 0.00,29.50 -1.39,15.94 -5.12,29.05 -4.14,15.45 -10.09,27.72 -6.76,14.50 -14.75,25.55 -9.18,13.11 -18.96,22.60 -11.31,11.31 -22.60,18.96 -13.11,9.18 -25.55,14.75 -14.50,6.76 -27.72,10.09 -15.45,4.14 -29.05,5.12 -15.94,1.39 -29.50,0.00 -15.94,-1.39 -29.05,-5.12 -15.45,-4.14 -27.72,-10.09 -14.50,-6.76 -25.55,-14.75 -13.11,-9.18 -22.60,-18.96 -11.31,-11.31 -18.96,-22.60 -9.18,-13.11 -14.75,-25.55 -6.76,-14.50 -10.09,-27.72 -4.14,-15.45 -5.12,-29.05 -1.39,-15.94" transform="translate(987.6 134.9)" fill="url(#bg1)"/>
<text x="987.9" y="138.5" font-size="9.20" text-anchor="middle" fill="#f2fffa" stroke="#f2fffa" stroke-width="0.42" font-weight="bold" textLength="24.5" lengthAdjust="spacingAndGlyphs">$9.8M</text>
<text x="987.6" y="246.8" font-size="9.50" text-anchor="middle" fill="#1e1e1e" stroke="#1e1e1e" stroke-width="0.42" font-weight="bold" textLength="50.7" lengthAdjust="spacingAndGlyphs">South Zone</text>
<text x="450.2" y="291.0" font-size="11.50" text-anchor="middle" fill="#1a1a1a" stroke="#1a1a1a" stroke-width="0.30" font-weight="bold" textLength="150.3" lengthAdjust="spacingAndGlyphs">Annual Cost USD by Region</text>
<line x1="240" y1="311.4" x2="662" y2="311.4" stroke="#e0e0e0" stroke-width="1"/>
<text x="233.6" y="313.6" font-size="8.50" text-anchor="end" fill="#1e1e1e" stroke="#1e1e1e" stroke-width="0.42" font-weight="bold" textLength="24.3" lengthAdjust="spacingAndGlyphs">$5.6M</text>
<line x1="240" y1="335.4" x2="662" y2="335.4" stroke="#e0e0e0" stroke-width="1"/>
<text x="233.6" y="337.6" font-size="8.50" text-anchor="end" fill="#1e1e1e" stroke="#1e1e1e" stroke-width="0.42" font-weight="bold" textLength="24.3" lengthAdjust="spacingAndGlyphs">$5.4M</text>
<line x1="240" y1="359.4" x2="662" y2="359.4" stroke="#e0e0e0" stroke-width="1"/>
<text x="233.6" y="361.6" font-size="8.50" text-anchor="end" fill="#1e1e1e" stroke="#1e1e1e" stroke-width="0.42" font-weight="bold" textLength="24.3" lengthAdjust="spacingAndGlyphs">$5.2M</text>
<line x1="240" y1="383.4" x2="662" y2="383.4" stroke="#e0e0e0" stroke-width="1"/>
<text x="233.6" y="385.6" font-size="8.50" text-anchor="end" fill="#1e1e1e" stroke="#1e1e1e" stroke-width="0.42" font-weight="bold" textLength="24.3" lengthAdjust="spacingAndGlyphs">$5.0M</text>
<line x1="240" y1="407.4" x2="662" y2="407.4" stroke="#e0e0e0" stroke-width="1"/>
<text x="233.6" y="409.6" font-size="8.50" text-anchor="end" fill="#1e1e1e" stroke="#1e1e1e" stroke-width="0.42" font-weight="bold" textLength="24.3" lengthAdjust="spacingAndGlyphs">$4.8M</text>
<line x1="240" y1="431.4" x2="662" y2="431.4" stroke="#e0e0e0" stroke-width="1"/>
<text x="233.6" y="433.6" font-size="8.50" text-anchor="end" fill="#1e1e1e" stroke="#1e1e1e" stroke-width="0.42" font-weight="bold" textLength="24.3" lengthAdjust="spacingAndGlyphs">$4.6M</text>
<line x1="240" y1="455.5" x2="662" y2="455.5" stroke="#e0e0e0" stroke-width="1"/>
<text x="233.6" y="457.7" font-size="8.50" text-anchor="end" fill="#1e1e1e" stroke="#1e1e1e" stroke-width="0.42" font-weight="bold" textLength="24.3" lengthAdjust="spacingAndGlyphs">$4.4M</text>
<line x1="240" y1="479.5" x2="662" y2="479.5" stroke="#e0e0e0" stroke-width="1"/>
<text x="233.6" y="481.7" font-size="8.50" text-anchor="end" fill="#1e1e1e" stroke="#1e1e1e" stroke-width="0.42" font-weight="bold" textLength="24.3" lengthAdjust="spacingAndGlyphs">$4.2M</text>
<line x1="240" y1="503.5" x2="662" y2="503.5" stroke="#e0e0e0" stroke-width="1"/>
<text x="233.6" y="505.7" font-size="8.50" text-anchor="end" fill="#1e1e1e" stroke="#1e1e1e" stroke-width="0.42" font-weight="bold" textLength="24.3" lengthAdjust="spacingAndGlyphs">$4.0M</text>
<line x1="348.1" y1="311.4" x2="348.1" y2="508" stroke="#dadada" stroke-width="1"/>
<line x1="452.7" y1="311.4" x2="452.7" y2="508" stroke="#dadada" stroke-width="1"/>
<line x1="557.4" y1="311.4" x2="557.4" y2="508" stroke="#dadada" stroke-width="1"/>
<line x1="662.0" y1="311.4" x2="662.0" y2="508" stroke="#dadada" stroke-width="1"/>
<line x1="243.4" y1="311.4" x2="243.4" y2="508" stroke="#c8c8c8" stroke-width="1"/>
<defs><linearGradient id="ag" x1="0" y1="0" x2="0" y2="1"><stop offset="0" stop-color="#1f6a57"/><stop offset="0.3" stop-color="#80baa9"/><stop offset="0.62" stop-color="#c2e2d8"/><stop offset="1" stop-color="#eef9f5"/></linearGradient></defs>
<polygon points="243.4,503.5 243.4,335.2 348.1,362.0 452.7,386.0 557.4,406.0 662.0,434.0 662.0,503.5" fill="url(#ag)"/>
<line x1="243.4" y1="335.4" x2="662" y2="335.4" stroke="rgba(0,40,30,0.09)" stroke-width="1"/>
<line x1="243.4" y1="359.4" x2="662" y2="359.4" stroke="rgba(0,40,30,0.09)" stroke-width="1"/>
<line x1="243.4" y1="383.4" x2="662" y2="383.4" stroke="rgba(0,40,30,0.09)" stroke-width="1"/>
<line x1="243.4" y1="407.4" x2="662" y2="407.4" stroke="rgba(0,40,30,0.09)" stroke-width="1"/>
<line x1="243.4" y1="431.4" x2="662" y2="431.4" stroke="rgba(0,40,30,0.09)" stroke-width="1"/>
<line x1="243.4" y1="455.5" x2="662" y2="455.5" stroke="rgba(0,40,30,0.09)" stroke-width="1"/>
<line x1="243.4" y1="479.5" x2="662" y2="479.5" stroke="rgba(0,40,30,0.09)" stroke-width="1"/>
<polyline points="243.4,335.2 348.1,362.0 452.7,386.0 557.4,406.0 662.0,434.0 662.0,503.5" fill="none" stroke="#2a5f52" stroke-width="2"/>
<line x1="240" y1="504.1" x2="662" y2="504.1" stroke="#7a7a7a" stroke-width="1.2"/>
<line x1="243.4" y1="503.5" x2="243.4" y2="507.5" stroke="#8a8a8a" stroke-width="1"/>
<line x1="348.1" y1="503.5" x2="348.1" y2="507.5" stroke="#8a8a8a" stroke-width="1"/>
<line x1="452.7" y1="503.5" x2="452.7" y2="507.5" stroke="#8a8a8a" stroke-width="1"/>
<line x1="557.4" y1="503.5" x2="557.4" y2="507.5" stroke="#8a8a8a" stroke-width="1"/>
<line x1="662.0" y1="503.5" x2="662.0" y2="507.5" stroke="#8a8a8a" stroke-width="1"/>
<text x="243.4" y="520.6" font-size="8.50" text-anchor="middle" fill="#1e1e1e" stroke="#1e1e1e" stroke-width="0.42" font-weight="bold" textLength="41.7" lengthAdjust="spacingAndGlyphs">West Zone</text>
<text x="348.1" y="520.6" font-size="8.50" text-anchor="middle" fill="#1e1e1e" stroke="#1e1e1e" stroke-width="0.42" font-weight="bold" textLength="38.1" lengthAdjust="spacingAndGlyphs">East Zone</text>
<text x="452.7" y="520.6" font-size="8.50" text-anchor="middle" fill="#1e1e1e" stroke="#1e1e1e" stroke-width="0.42" font-weight="bold" textLength="43.8" lengthAdjust="spacingAndGlyphs">North Zone</text>
<text x="557.4" y="520.6" font-size="8.50" text-anchor="middle" fill="#1e1e1e" stroke="#1e1e1e" stroke-width="0.42" font-weight="bold" textLength="44.4" lengthAdjust="spacingAndGlyphs">South Zone</text>
<text x="662.0" y="520.6" font-size="8.50" text-anchor="middle" fill="#1e1e1e" stroke="#1e1e1e" stroke-width="0.42" font-weight="bold" textLength="58.8" lengthAdjust="spacingAndGlyphs">Central Region</text>
<text x="276.9" y="321.7" font-size="8.50" text-anchor="middle" fill="#1e1e1e" stroke="#1e1e1e" stroke-width="0.42" font-weight="bold" textLength="24.8" lengthAdjust="spacingAndGlyphs">$5.4M</text>
<text x="338.9" y="356.7" font-size="8.50" text-anchor="middle" fill="#1e1e1e" stroke="#1e1e1e" stroke-width="0.42" font-weight="bold" textLength="24.8" lengthAdjust="spacingAndGlyphs">$5.2M</text>
<text x="447.5" y="359.7" font-size="8.50" text-anchor="middle" fill="#1e1e1e" stroke="#1e1e1e" stroke-width="0.42" font-weight="bold" textLength="24.8" lengthAdjust="spacingAndGlyphs">$5.0M</text>
<text x="549.1" y="378.5" font-size="8.50" text-anchor="middle" fill="#1e1e1e" stroke="#1e1e1e" stroke-width="0.42" font-weight="bold" textLength="24.8" lengthAdjust="spacingAndGlyphs">$4.8M</text>
<text x="653.0" y="392.4" font-size="8.50" text-anchor="middle" fill="#1e1e1e" stroke="#1e1e1e" stroke-width="0.42" font-weight="bold" textLength="24.8" lengthAdjust="spacingAndGlyphs">$4.6M</text>
<polyline points="243.4,335.2 255,321 262,321" fill="none" stroke="#9a9a9a" stroke-width="0.8"/>
<line x1="452.7" y1="386" x2="447.2" y2="364" stroke="#9a9a9a" stroke-width="0.8"/>
<line x1="557.2" y1="406" x2="548" y2="381" stroke="#9a9a9a" stroke-width="0.8"/>
<line x1="662" y1="434" x2="657" y2="395" stroke="#9a9a9a" stroke-width="0.8"/>
<text x="879.3" y="290.9" font-size="11.50" text-anchor="middle" fill="#1a1a1a" stroke="#1a1a1a" stroke-width="0.30" font-weight="bold" textLength="156.4" lengthAdjust="spacingAndGlyphs">Events Conducted by Region</text>
<path d="M873.00,306.30 A113.0,113.0 0 0 1 984.28,399.68 L912.69,412.30 A40.3,40.3 0 0 0 873.00,379.00 Z" fill="#a9dfc4" stroke="#ffffff" stroke-width="2"/>
<path d="M984.28,399.68 A113.0,113.0 0 0 1 925.53,519.35 L891.73,454.98 A40.3,40.3 0 0 0 912.69,412.30 Z" fill="#4cbf9f" stroke="#ffffff" stroke-width="2"/>
<path d="M925.53,519.35 A113.0,113.0 0 0 1 794.50,500.59 L845.01,448.29 A40.3,40.3 0 0 0 891.73,454.98 Z" fill="#7fd2a8" stroke="#ffffff" stroke-width="2"/>
<path d="M794.50,500.59 A113.0,113.0 0 0 1 769.77,373.34 L836.18,402.91 A40.3,40.3 0 0 0 845.01,448.29 Z" fill="#1f5e4b" stroke="#ffffff" stroke-width="2"/>
<path d="M769.77,373.34 A113.0,113.0 0 0 1 873.00,306.30 L873.00,379.00 A40.3,40.3 0 0 0 836.18,402.91 Z" fill="#2f8a72" stroke="#ffffff" stroke-width="2"/>
<text x="922.3" y="358.2" font-size="9.80" text-anchor="middle" fill="#111111" stroke="#111111" stroke-width="0.42" font-weight="bold" textLength="49.7" lengthAdjust="spacingAndGlyphs">West Zone,</text>
<text x="922.7" y="372.6" font-size="9.80" text-anchor="middle" fill="#111111" stroke="#111111" stroke-width="0.42" font-weight="bold" textLength="20.9" lengthAdjust="spacingAndGlyphs">1.4K</text>
<text x="832.0" y="352.1" font-size="9.80" text-anchor="middle" fill="#111111" stroke="#111111" stroke-width="0.42" font-weight="bold" textLength="34.9" lengthAdjust="spacingAndGlyphs">Central</text>
<text x="831.1" y="366.0" font-size="9.80" text-anchor="middle" fill="#111111" stroke="#111111" stroke-width="0.42" font-weight="bold" textLength="55.9" lengthAdjust="spacingAndGlyphs">Region, 1.2K</text>
<text x="798.0" y="430.2" font-size="9.80" text-anchor="middle" fill="#111111" stroke="#111111" stroke-width="0.42" font-weight="bold" textLength="52.4" lengthAdjust="spacingAndGlyphs">North Zone,</text>
<text x="798.2" y="443.7" font-size="9.80" text-anchor="middle" fill="#111111" stroke="#111111" stroke-width="0.42" font-weight="bold" textLength="19.6" lengthAdjust="spacingAndGlyphs">1.3K</text>
<text x="950.0" y="445.4" font-size="9.80" text-anchor="middle" fill="#111111" stroke="#111111" stroke-width="0.42" font-weight="bold" textLength="46.7" lengthAdjust="spacingAndGlyphs">East Zone,</text>
<text x="950.0" y="459.0" font-size="9.80" text-anchor="middle" fill="#111111" stroke="#111111" stroke-width="0.42" font-weight="bold" textLength="20.5" lengthAdjust="spacingAndGlyphs">1.3K</text>
<text x="864.1" y="491.7" font-size="9.80" text-anchor="middle" fill="#111111" stroke="#111111" stroke-width="0.42" font-weight="bold" textLength="53.6" lengthAdjust="spacingAndGlyphs">South Zone,</text>
<text x="865.0" y="504.8" font-size="9.80" text-anchor="middle" fill="#111111" stroke="#111111" stroke-width="0.42" font-weight="bold" textLength="20.5" lengthAdjust="spacingAndGlyphs">1.3K</text>
<defs><linearGradient id="glb" x1="0.85" y1="0.1" x2="0.2" y2="0.9"><stop offset="0" stop-color="#22cdb0"/><stop offset="1" stop-color="#1d5fe0"/></linearGradient></defs>
<text x="95.6" y="53.2" font-size="16.5" font-weight="bold" fill="#1b6b7a" stroke="#1b6b7a" stroke-width="0.7" text-anchor="middle" textLength="39" lengthAdjust="spacing">NGT</text>
<path d="M66.5,50.5 C70,55.5 76,57 83,55.5 C90,54 95,51.5 102.5,52.5" fill="none" stroke="#1c6e7c" stroke-width="2.6"/>
<path d="M71,50.5 C69,47 70,44.5 73.5,43" fill="none" stroke="#e8b080" stroke-width="0.9"/>
<path d="M74,50 C72.5,47.5 73,46 75,45" fill="none" stroke="#e8b080" stroke-width="0.8"/>
<path d="M82,57.3 C90,56.5 95,54.5 103,54.8" fill="none" stroke="#eab588" stroke-width="0.9"/>
<text x="92.8" y="65" font-size="3.6" font-weight="bold" fill="#222" text-anchor="middle" textLength="42.5" lengthAdjust="spacing">NEXT GEN TEMPLATES</text>
<rect x="82.3" y="369.8" width="22.6" height="22.6" rx="2.5" fill="#3a8dd2"/>
<rect x="86" y="377.6" width="3.4" height="11" fill="#fff"/><circle cx="87.7" cy="373.9" r="2" fill="#fff"/>
<path d="M91.6,388.6 V377.6 H94.8 V379.3 C95.6,377.9 96.9,377.3 98.4,377.3 C101,377.3 102,379 102,381.8 V388.6 H98.7 V382.6 C98.7,381 98.2,380.2 97,380.2 C95.7,380.2 94.9,381.1 94.9,382.8 V388.6 Z" fill="#fff"/>
<rect x="82.2" y="422.2" width="23.1" height="22.7" rx="3.5" fill="#ee1212"/>
<rect x="85.9" y="428.4" width="15.5" height="11" rx="3" fill="#fff"/>
<path d="M92,431.8 L96,434 L92,436.2 Z" fill="#ee1212"/>
<circle cx="93.5" cy="486.8" r="13" fill="url(#glb)"/>
<g fill="none" stroke="#fff" stroke-width="1"><circle cx="93.5" cy="487" r="7.3"/><ellipse cx="93.5" cy="487" rx="3.2" ry="7.3"/><line x1="93.5" y1="479.7" x2="93.5" y2="494.3"/><line x1="86.2" y1="487" x2="100.8" y2="487"/><line x1="87.2" y1="483.5" x2="99.8" y2="483.5"/><line x1="87.2" y1="490.5" x2="99.8" y2="490.5"/></g></svg>
</body></html>
